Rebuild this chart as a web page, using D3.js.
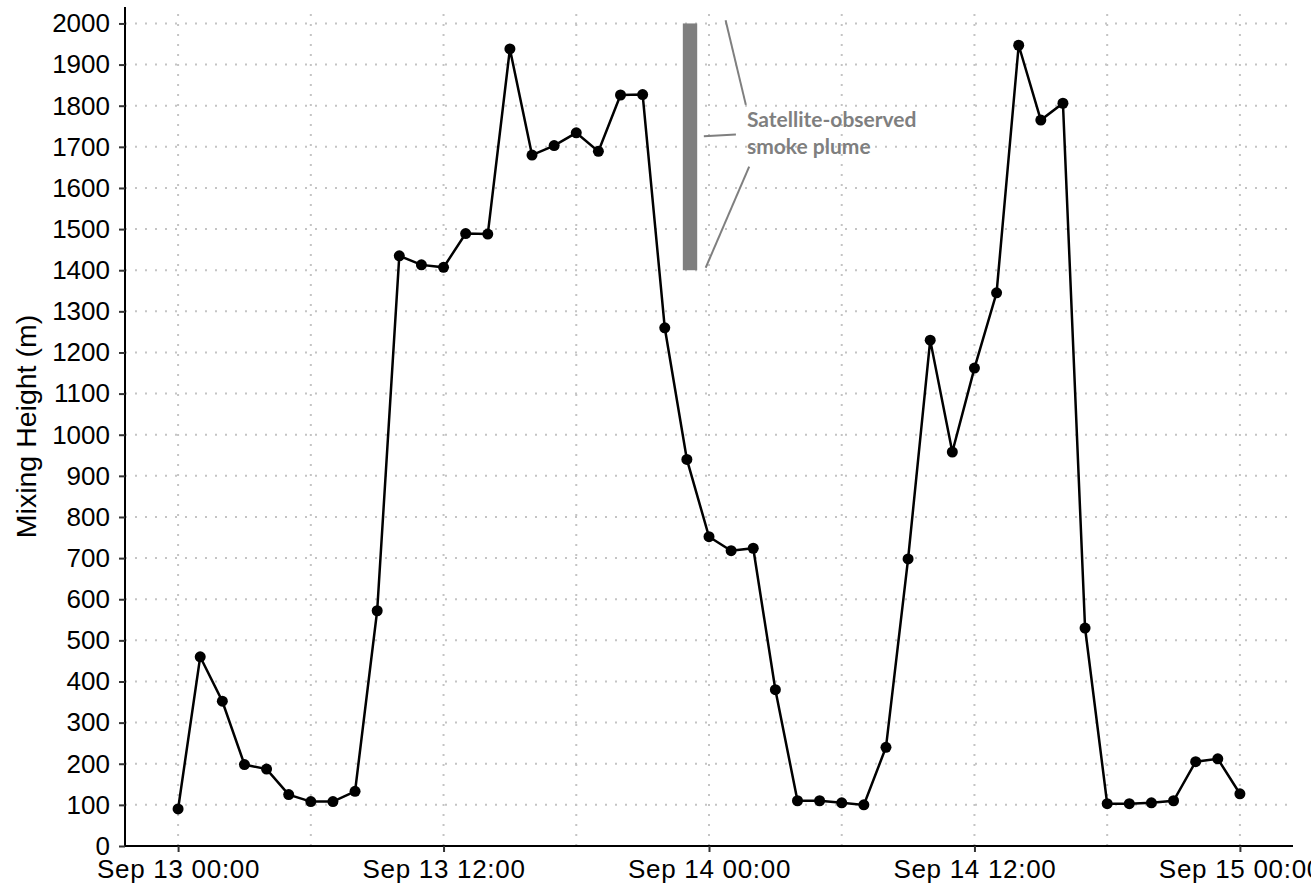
<!DOCTYPE html>
<html>
<head>
<meta charset="utf-8">
<script src="https://cdn.jsdelivr.net/npm/d3@7"></script>
<style>
  body { margin: 0; background: #fff; }
  svg { display: block; }
</style>
</head>
<body>
<svg id="chart"></svg>
<script>
// Datos: altura de mezcla por hora
const times = [
  "2020-09-13T00:00", "2020-09-13T01:00", "2020-09-13T02:00", "2020-09-13T03:00", "2020-09-13T04:00",
  "2020-09-13T05:00", "2020-09-13T06:00", "2020-09-13T07:00", "2020-09-13T08:00", "2020-09-13T09:00",
  "2020-09-13T10:00", "2020-09-13T11:00", "2020-09-13T12:00", "2020-09-13T13:00", "2020-09-13T14:00",
  "2020-09-13T15:00", "2020-09-13T16:00", "2020-09-13T17:00", "2020-09-13T18:00", "2020-09-13T19:00",
  "2020-09-13T20:00", "2020-09-13T21:00", "2020-09-13T22:00", "2020-09-13T23:00", "2020-09-14T00:00",
  "2020-09-14T01:00", "2020-09-14T02:00", "2020-09-14T03:00", "2020-09-14T04:00", "2020-09-14T05:00",
  "2020-09-14T06:00", "2020-09-14T07:00", "2020-09-14T08:00", "2020-09-14T09:00", "2020-09-14T10:00",
  "2020-09-14T11:00", "2020-09-14T12:00", "2020-09-14T13:00", "2020-09-14T14:00", "2020-09-14T15:00",
  "2020-09-14T16:00", "2020-09-14T17:00", "2020-09-14T18:00", "2020-09-14T19:00", "2020-09-14T20:00",
  "2020-09-14T21:00", "2020-09-14T22:00", "2020-09-14T23:00", "2020-09-15T00:00"
];
const mixingHeight = [
  90, 460, 352, 198, 187, 125, 108, 108, 133, 572,
  1435, 1413, 1407, 1489, 1488, 1938, 1680, 1703, 1734, 1689,
  1826, 1827, 1260, 940, 752, 718, 724, 380, 110, 110,
  105, 100, 240, 698, 1230, 958, 1162, 1345, 1947, 1765,
  1806, 530, 103, 103, 105, 110, 205, 212, 127
];

const xDomain = ["2020-09-12T21:36", "2020-09-15T02:24"];
const yDomain = [0, 2040];
const yTicks = [0, 100, 200, 300, 400, 500, 600, 700, 800, 900, 1000,
                1100, 1200, 1300, 1400, 1500, 1600, 1700, 1800, 1900, 2000];
const xTicks = ["2020-09-13T00:00", "2020-09-13T12:00", "2020-09-14T00:00", "2020-09-14T12:00", "2020-09-15T00:00"];
const xGrid = ["2020-09-13T00:00", "2020-09-13T06:00", "2020-09-13T12:00", "2020-09-13T18:00", "2020-09-14T00:00",
               "2020-09-14T06:00", "2020-09-14T12:00", "2020-09-14T18:00", "2020-09-15T00:00"];

// Pluma de humo observada por satélite
const plume = { start: "2020-09-13T22:49", end: "2020-09-13T23:28", low: 1400, high: 2000 };
const plumeLeaders = [
  [["2020-09-14T00:45", 2008], ["2020-09-14T01:40", 1802]],
  [["2020-09-13T23:46", 1726], ["2020-09-14T01:13", 1730]],
  [["2020-09-14T01:49", 1652], ["2020-09-13T23:51", 1406]]
];
const plumeLabel = ["Satellite-observed", "smoke plume"];
const plumeLabelAt = ["2020-09-14T01:43", 1748];

// Dimensiones
const width = 1311, height = 891;
const margin = { top: 7, right: 18, bottom: 45, left: 125 };
const parse = d3.utcParse("%Y-%m-%dT%H:%M");

const data = times.map((t, i) => ({ t: parse(t), v: mixingHeight[i] }));

const svg = d3.select("#chart")
  .attr("width", width)
  .attr("height", height)
  .attr("viewBox", `0 0 ${width} ${height}`);

const x = d3.scaleUtc()
  .domain(xDomain.map(parse))
  .range([margin.left, width - margin.right]);
const y = d3.scaleLinear()
  .domain(yDomain)
  .range([height - margin.bottom, margin.top]);

// Rejilla punteada
const grid = svg.append("g")
  .attr("stroke", "#c4c4c4")
  .attr("stroke-width", 2)
  .attr("stroke-dasharray", "2,8");
grid.selectAll(".hg").data(yTicks.filter(d => d > 0)).join("line")
  .attr("x1", margin.left).attr("x2", width - margin.right)
  .attr("y1", d => y(d)).attr("y2", d => y(d));
grid.selectAll(".vg").data(xGrid.map(parse)).join("line")
  .attr("x1", d => x(d)).attr("x2", d => x(d))
  .attr("y1", height - margin.bottom).attr("y2", margin.top);

// Ejes
const xAxis = d3.axisBottom(x)
  .tickValues(xTicks.map(parse))
  .tickFormat(d3.utcFormat("%b %d %H:%M"))
  .tickSize(6)
  .tickPadding(8);
const yAxis = d3.axisLeft(y)
  .tickValues(yTicks)
  .tickFormat(d3.format("d"))
  .tickSize(6)
  .tickPadding(9);

const gx = svg.append("g")
  .attr("transform", `translate(0,${height - margin.bottom})`)
  .call(xAxis);
const gy = svg.append("g")
  .attr("transform", `translate(${margin.left},0)`)
  .call(yAxis);

[gx, gy].forEach(g => {
  g.select(".domain").attr("stroke", "#000").attr("stroke-width", 2);
  g.selectAll(".tick line").attr("stroke", "#333").attr("stroke-width", 2);
  g.selectAll(".tick text")
    .attr("fill", "#000")
    .style("font-family", "'Liberation Sans', Arial, sans-serif")
    .style("font-size", "26px");
});
gx.selectAll(".tick text").style("letter-spacing", "0.7px");
gx.select(".domain").attr("d", `M${margin.left},0H${width - margin.right}`);
gy.select(".domain").attr("d", `M0,${height - margin.bottom}V${margin.top}`);

// Título eje Y
svg.append("text")
  .attr("transform", `translate(36,${(margin.top + height - margin.bottom) / 2}) rotate(-90)`)
  .attr("text-anchor", "middle")
  .style("font-family", "'Liberation Sans', Arial, sans-serif")
  .style("font-size", "28.5px")
  .attr("fill", "#000")
  .text("Mixing Height (m)");

// Pluma
svg.append("rect")
  .attr("x", x(parse(plume.start)))
  .attr("width", x(parse(plume.end)) - x(parse(plume.start)))
  .attr("y", y(plume.high))
  .attr("height", y(plume.low) - y(plume.high))
  .attr("fill", "#7f7f7f");

svg.append("g").selectAll("line").data(plumeLeaders).join("line")
  .attr("x1", d => x(parse(d[0][0]))).attr("y1", d => y(d[0][1]))
  .attr("x2", d => x(parse(d[1][0]))).attr("y2", d => y(d[1][1]))
  .attr("stroke", "#7f7f7f")
  .attr("stroke-width", 2);

svg.append("text")
  .attr("x", x(parse(plumeLabelAt[0])))
  .attr("y", y(plumeLabelAt[1]))
  .attr("fill", "#7f7f7f")
  .style("font-family", "Lato, 'Open Sans', sans-serif")
  .style("font-weight", "bold")
  .style("font-size", "21px")
  .selectAll("tspan").data(plumeLabel).join("tspan")
  .attr("x", x(parse(plumeLabelAt[0])))
  .attr("dy", (d, i) => i === 0 ? 0 : 27)
  .text(d => d);

// Línea y puntos
const line = d3.line()
  .x(d => x(d.t))
  .y(d => y(d.v));

svg.append("path")
  .datum(data)
  .attr("fill", "none")
  .attr("stroke", "#000")
  .attr("stroke-width", 2.5)
  .attr("d", line);

svg.append("g").selectAll("circle").data(data).join("circle")
  .attr("cx", d => x(d.t))
  .attr("cy", d => y(d.v))
  .attr("r", 5.5)
  .attr("fill", "#000");
</script>
</body>
</html>
